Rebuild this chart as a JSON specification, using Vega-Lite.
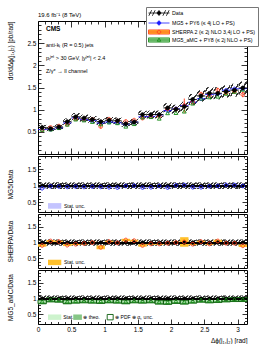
{
"$schema":"https://vega.github.io/schema/vega-lite/v6.json",
"autosize":{"type":"pad"},
"padding":{"left":6,"top":6,"right":5,"bottom":5},
"background":"white",
"config":{"font":"Liberation Sans","view":{"stroke":"black","strokeWidth":1},
"axis":{"domain":false,"grid":false,"labelFont":"Liberation Sans","labelFontSize":6.5,"labelColor":"black","titleFont":"Liberation Sans","titleFontSize":6.5,"titleFontWeight":"normal","titleColor":"black","tickColor":"black","tickWidth":0.8,"labelOverlap":false,"labelFlush":false,"labelBound":false,"labelPadding":2},
"legend":{"labelFont":"Liberation Sans"}},
"data":{"values":[
{"x0":0,"x1":0.1257,"xc":0.0628,"d":0.60,"de":0.03,"hl":0.54,"hh":0.66,"m":0.552,"mr":0.92,"me":0.02,"s":0.546,"sr":0.91,"se":0.04,"sem":0.024,"a":0.540,"ar":0.90,"ae":0.015,"at":0.08,"pl":0.84,"ph":0.96},
{"x0":0.1257,"x1":0.2513,"xc":0.1885,"d":0.57,"de":0.03,"hl":0.513,"hh":0.627,"m":0.559,"mr":0.98,"me":0.02,"s":0.599,"sr":1.05,"se":0.03,"sem":0.017,"a":0.547,"ar":0.96,"ae":0.015,"at":0.08,"pl":0.90,"ph":1.02},
{"x0":0.2513,"x1":0.3770,"xc":0.3142,"d":0.61,"de":0.03,"hl":0.549,"hh":0.671,"m":0.592,"mr":0.97,"me":0.02,"s":0.628,"sr":1.03,"se":0.03,"sem":0.018,"a":0.580,"ar":0.95,"ae":0.015,"at":0.08,"pl":0.89,"ph":1.01},
{"x0":0.3770,"x1":0.5027,"xc":0.4398,"d":0.73,"de":0.03,"hl":0.657,"hh":0.803,"m":0.701,"mr":0.96,"me":0.02,"s":0.672,"sr":0.92,"se":0.03,"sem":0.022,"a":0.657,"ar":0.90,"ae":0.015,"at":0.08,"pl":0.84,"ph":0.96},
{"x0":0.5027,"x1":0.6283,"xc":0.5655,"d":0.84,"de":0.03,"hl":0.756,"hh":0.924,"m":0.815,"mr":0.97,"me":0.02,"s":0.798,"sr":0.95,"se":0.03,"sem":0.025,"a":0.773,"ar":0.92,"ae":0.015,"at":0.08,"pl":0.86,"ph":0.98},
{"x0":0.6283,"x1":0.7540,"xc":0.6912,"d":0.81,"de":0.03,"hl":0.729,"hh":0.891,"m":0.778,"mr":0.96,"me":0.02,"s":0.786,"sr":0.97,"se":0.03,"sem":0.024,"a":0.753,"ar":0.93,"ae":0.015,"at":0.08,"pl":0.87,"ph":0.99},
{"x0":0.7540,"x1":0.8796,"xc":0.8168,"d":0.78,"de":0.03,"hl":0.702,"hh":0.858,"m":0.757,"mr":0.97,"me":0.02,"s":0.780,"sr":1.00,"se":0.03,"sem":0.023,"a":0.718,"ar":0.92,"ae":0.015,"at":0.08,"pl":0.86,"ph":0.98},
{"x0":0.8796,"x1":1.0053,"xc":0.9425,"d":0.73,"de":0.03,"hl":0.657,"hh":0.803,"m":0.701,"mr":0.96,"me":0.02,"s":0.621,"sr":0.85,"se":0.06,"sem":0.044,"a":0.664,"ar":0.91,"ae":0.015,"at":0.08,"pl":0.85,"ph":0.97},
{"x0":1.0053,"x1":1.1310,"xc":1.0681,"d":0.76,"de":0.03,"hl":0.684,"hh":0.836,"m":0.722,"mr":0.95,"me":0.02,"s":0.783,"sr":1.03,"se":0.03,"sem":0.023,"a":0.707,"ar":0.93,"ae":0.015,"at":0.08,"pl":0.87,"ph":0.99},
{"x0":1.1310,"x1":1.2566,"xc":1.1938,"d":0.75,"de":0.03,"hl":0.675,"hh":0.825,"m":0.705,"mr":0.94,"me":0.02,"s":0.743,"sr":0.99,"se":0.03,"sem":0.023,"a":0.690,"ar":0.92,"ae":0.015,"at":0.08,"pl":0.86,"ph":0.98},
{"x0":1.2566,"x1":1.3823,"xc":1.3195,"d":0.68,"de":0.03,"hl":0.612,"hh":0.748,"m":0.673,"mr":0.99,"me":0.02,"s":0.734,"sr":1.08,"se":0.04,"sem":0.027,"a":0.612,"ar":0.90,"ae":0.015,"at":0.08,"pl":0.84,"ph":0.96},
{"x0":1.3823,"x1":1.5080,"xc":1.4451,"d":0.72,"de":0.03,"hl":0.648,"hh":0.792,"m":0.720,"mr":1.00,"me":0.02,"s":0.763,"sr":1.06,"se":0.03,"sem":0.022,"a":0.670,"ar":0.93,"ae":0.015,"at":0.08,"pl":0.87,"ph":0.99},
{"x0":1.5080,"x1":1.6336,"xc":1.5708,"d":0.89,"de":0.03,"hl":0.801,"hh":0.979,"m":0.837,"mr":0.94,"me":0.02,"s":0.810,"sr":0.91,"se":0.04,"sem":0.036,"a":0.819,"ar":0.92,"ae":0.015,"at":0.08,"pl":0.86,"ph":0.98},
{"x0":1.6336,"x1":1.7593,"xc":1.6965,"d":0.89,"de":0.03,"hl":0.801,"hh":0.979,"m":0.846,"mr":0.95,"me":0.02,"s":0.854,"sr":0.96,"se":0.03,"sem":0.027,"a":0.828,"ar":0.93,"ae":0.015,"at":0.08,"pl":0.87,"ph":0.99},
{"x0":1.7593,"x1":1.8850,"xc":1.8221,"d":0.89,"de":0.03,"hl":0.801,"hh":0.979,"m":0.881,"mr":0.99,"me":0.02,"s":0.854,"sr":0.96,"se":0.03,"sem":0.027,"a":0.792,"ar":0.89,"ae":0.015,"at":0.08,"pl":0.83,"ph":0.95},
{"x0":1.8850,"x1":2.0106,"xc":1.9478,"d":1.04,"de":0.03,"hl":0.936,"hh":1.144,"m":0.978,"mr":0.94,"me":0.02,"s":1.019,"sr":0.98,"se":0.03,"sem":0.031,"a":0.915,"ar":0.88,"ae":0.015,"at":0.08,"pl":0.82,"ph":0.94},
{"x0":2.0106,"x1":2.1363,"xc":2.0735,"d":1.01,"de":0.03,"hl":0.909,"hh":1.111,"m":1.020,"mr":1.01,"me":0.02,"s":1.010,"sr":1.00,"se":0.03,"sem":0.030,"a":0.919,"ar":0.91,"ae":0.015,"at":0.08,"pl":0.85,"ph":0.97},
{"x0":2.1363,"x1":2.2619,"xc":2.1991,"d":1.07,"de":0.03,"hl":0.963,"hh":1.177,"m":1.091,"mr":1.02,"me":0.02,"s":1.091,"sr":1.02,"se":0.15,"sem":0.16,"a":0.952,"ar":0.89,"ae":0.015,"at":0.08,"pl":0.83,"ph":0.95},
{"x0":2.2619,"x1":2.3876,"xc":2.3248,"d":1.23,"de":0.03,"hl":1.107,"hh":1.353,"m":1.169,"mr":0.95,"me":0.02,"s":1.169,"sr":0.95,"se":0.03,"sem":0.037,"a":1.132,"ar":0.92,"ae":0.015,"at":0.08,"pl":0.86,"ph":0.98},
{"x0":2.3876,"x1":2.5133,"xc":2.4504,"d":1.31,"de":0.03,"hl":1.179,"hh":1.441,"m":1.245,"mr":0.95,"me":0.02,"s":1.349,"sr":1.03,"se":0.03,"sem":0.039,"a":1.245,"ar":0.95,"ae":0.015,"at":0.08,"pl":0.89,"ph":1.01},
{"x0":2.5133,"x1":2.6389,"xc":2.5761,"d":1.37,"de":0.03,"hl":1.233,"hh":1.507,"m":1.343,"mr":0.98,"me":0.02,"s":1.315,"sr":0.96,"se":0.03,"sem":0.041,"a":1.274,"ar":0.93,"ae":0.015,"at":0.08,"pl":0.87,"ph":0.99},
{"x0":2.6389,"x1":2.7646,"xc":2.7018,"d":1.37,"de":0.03,"hl":1.233,"hh":1.507,"m":1.356,"mr":0.99,"me":0.02,"s":1.439,"sr":1.05,"se":0.04,"sem":0.055,"a":1.288,"ar":0.94,"ae":0.015,"at":0.08,"pl":0.88,"ph":1.00},
{"x0":2.7646,"x1":2.8903,"xc":2.8274,"d":1.41,"de":0.03,"hl":1.269,"hh":1.551,"m":1.438,"mr":1.02,"me":0.02,"s":1.382,"sr":0.98,"se":0.03,"sem":0.042,"a":1.354,"ar":0.96,"ae":0.015,"at":0.08,"pl":0.90,"ph":1.02},
{"x0":2.8903,"x1":3.0159,"xc":2.9531,"d":1.44,"de":0.03,"hl":1.296,"hh":1.584,"m":1.469,"mr":1.02,"me":0.02,"s":1.411,"sr":0.98,"se":0.03,"sem":0.043,"a":1.397,"ar":0.97,"ae":0.015,"at":0.08,"pl":0.91,"ph":1.03},
{"x0":3.0159,"x1":3.1416,"xc":3.0788,"d":1.49,"de":0.03,"hl":1.341,"hh":1.639,"m":1.475,"mr":0.99,"me":0.02,"s":1.341,"sr":0.90,"se":0.04,"sem":0.060,"a":1.445,"ar":0.97,"ae":0.015,"at":0.08,"pl":0.91,"ph":1.03}
]},
"spacing":0,
"vconcat":[
{
"width":209,"height":133,
"title":{"text":"19.6 fb⁻¹ (8 TeV)","anchor":"start","frame":"group","fontSize":6,"fontWeight":"normal","font":"Liberation Sans","offset":3},
"resolve":{"axis":{"x":"independent","y":"independent"}},
"layer":[
{"mark":{"type":"rect","fill":{"gradient":"linear","x1":0,"y1":0,"x2":1,"y2":1,"stops":[{"offset":0,"color":"rgba(0,0,0,0)"},{"offset":0.12,"color":"rgba(0,0,0,0)"},{"offset":0.12,"color":"#333"},{"offset":0.22,"color":"#333"},{"offset":0.22,"color":"rgba(0,0,0,0)"},{"offset":0.45,"color":"rgba(0,0,0,0)"},{"offset":0.45,"color":"#333"},{"offset":0.55,"color":"#333"},{"offset":0.55,"color":"rgba(0,0,0,0)"},{"offset":0.78,"color":"rgba(0,0,0,0)"},{"offset":0.78,"color":"#333"},{"offset":0.88,"color":"#333"},{"offset":0.88,"color":"rgba(0,0,0,0)"},{"offset":1,"color":"rgba(0,0,0,0)"}]}},
 "encoding":{"x":{"field":"x0","type":"quantitative","scale":{"domain":[0,3.14159],"nice":false,"zero":false},"axis":{"orient":"top","values":[0,0.1,0.2,0.3,0.4,0.5,0.6,0.7,0.8,0.9,1,1.1,1.2,1.3,1.4,1.5,1.6,1.7,1.8,1.9,2,2.1,2.2,2.3,2.4,2.5,2.6,2.7,2.8,2.9,3,3.1],"labels":false,"title":null,"tickSize":{"condition":{"test":"abs(datum.value*2-round(datum.value*2))<0.001","value":-6},"value":-3}}},
  "x2":{"field":"x1"},
  "y":{"field":"hl","type":"quantitative","scale":{"domain":[0,3],"nice":false,"zero":false},"axis":{"orient":"right","values":[0.1,0.2,0.3,0.4,0.5,0.6,0.7,0.8,0.9,1,1.1,1.2,1.3,1.4,1.5,1.6,1.7,1.8,1.9,2,2.1,2.2,2.3,2.4,2.5,2.6,2.7,2.8,2.9],"labels":false,"title":null,"tickSize":{"condition":{"test":"abs(datum.value*2-round(datum.value*2))<0.001","value":-6},"value":-3}}},
  "y2":{"field":"hh"}}},
{"mark":{"type":"point","shape":"M-1,0H1M0.42,0A0.42,0.42 0 1,1 -0.42,0A0.42,0.42 0 1,1 0.42,0Z","size":70,"filled":false,"color":"#1a1aff","strokeWidth":0.9,"opacity":1},
 "encoding":{"x":{"field":"xc","type":"quantitative","axis":null},"y":{"field":"m","type":"quantitative","axis":null}}},
{"mark":{"type":"errorbar","color":"#ff3a1a","thickness":0.9},
 "encoding":{"x":{"field":"xc","type":"quantitative","axis":null},"y":{"field":"s","type":"quantitative","axis":null},"yError":{"field":"sem"}}},
{"mark":{"type":"point","shape":"M0.45,0A0.45,0.45 0 1,1 -0.45,0A0.45,0.45 0 1,1 0.45,0Z","size":70,"filled":false,"color":"#ff3a1a","strokeWidth":0.9,"opacity":1},
 "encoding":{"x":{"field":"xc","type":"quantitative","axis":null},"y":{"field":"s","type":"quantitative","axis":null}}},
{"mark":{"type":"point","shape":"M0,-0.5L0.45,0.3H-0.45Z","size":70,"filled":false,"color":"#128a12","strokeWidth":0.9,"opacity":1},
 "encoding":{"x":{"field":"xc","type":"quantitative","axis":null},"y":{"field":"a","type":"quantitative","axis":null}}},
{"mark":{"type":"errorbar","color":"black","thickness":0.9},
 "encoding":{"x":{"field":"xc","type":"quantitative","axis":null},"y":{"field":"d","type":"quantitative","axis":null},"yError":{"field":"de"}}},
{"mark":{"type":"point","shape":"M-1,0H1M0.45,0A0.45,0.45 0 1,1 -0.45,0A0.45,0.45 0 1,1 0.45,0Z","size":70,"filled":true,"color":"black","stroke":"black","strokeWidth":0.9,"opacity":1},
 "encoding":{"x":{"field":"xc","type":"quantitative","axis":{"orient":"bottom","values":[0,0.1,0.2,0.3,0.4,0.5,0.6,0.7,0.8,0.9,1,1.1,1.2,1.3,1.4,1.5,1.6,1.7,1.8,1.9,2,2.1,2.2,2.3,2.4,2.5,2.6,2.7,2.8,2.9,3,3.1],"labels":false,"title":null,"tickSize":{"condition":{"test":"abs(datum.value*2-round(datum.value*2))<0.001","value":-6},"value":-3}}},
  "y":{"field":"d","type":"quantitative","axis":{"orient":"left","values":[0.1,0.2,0.3,0.4,0.5,0.6,0.7,0.8,0.9,1,1.1,1.2,1.3,1.4,1.5,1.6,1.7,1.8,1.9,2,2.1,2.2,2.3,2.4,2.5,2.6,2.7,2.8,2.9],"labelExpr":"abs(datum.value*2-round(datum.value*2))<0.001 ? format(datum.value,'~g') : ''","labelPadding":8,"title":"dσ/dΔϕ(j₁,j₂)  [pb/rad]","titleAnchor":"end","titleX":-25,"tickSize":{"condition":{"test":"abs(datum.value*2-round(datum.value*2))<0.001","value":-6},"value":-3}}}}},
{"data":{"values":[{}]},"mark":{"type":"text","text":"CMS","font":"Liberation Sans","fontWeight":"bold","fontSize":6.5,"align":"left","baseline":"middle"},
 "encoding":{"x":{"datum":0.12,"type":"quantitative","axis":null},"y":{"datum":2.83,"type":"quantitative","axis":null}}},
{"data":{"values":[{}]},"mark":{"type":"text","text":"anti-kₜ (R = 0.5) jets","font":"Liberation Sans","fontSize":5.5,"align":"left","baseline":"middle"},
 "encoding":{"x":{"datum":0.12,"type":"quantitative","axis":null},"y":{"datum":2.46,"type":"quantitative","axis":null}}},
{"data":{"values":[{}]},"mark":{"type":"text","text":"pₜʲᵉᵗ > 30 GeV, |yʲᵉᵗ| < 2.4","font":"Liberation Sans","fontSize":5.5,"align":"left","baseline":"middle"},
 "encoding":{"x":{"datum":0.12,"type":"quantitative","axis":null},"y":{"datum":2.16,"type":"quantitative","axis":null}}},
{"data":{"values":[{}]},"mark":{"type":"text","text":"Z/γ* → ll channel","font":"Liberation Sans","fontSize":5.5,"align":"left","baseline":"middle"},
 "encoding":{"x":{"datum":0.12,"type":"quantitative","axis":null},"y":{"datum":1.88,"type":"quantitative","axis":null}}},
{"transform":[{"filter":"false"}],
 "mark":{"type":"point","filled":true,"opacity":1},
 "encoding":{
  "x":{"field":"xc","type":"quantitative","axis":null},"y":{"field":"d","type":"quantitative","axis":null},
  "fill":{"field":"series","type":"nominal","scale":{"domain":["Data","MG5 + PY6 (≤ 4j LO + PS)","SHERPA 2 (≤ 2j NLO 3,4j LO + PS)","MG5_aMC + PY8 (≤ 2j NLO + PS)"],"range":["black","#1a1aff","#ffc02a","#9ad49a"]},
   "legend":{"orient":"none","legendX":108,"legendY":-14,"title":null,"labelFontSize":5.3,"symbolSize":49,"symbolStrokeWidth":0.8,"symbolOpacity":1,"labelOffset":16,"padding":2,"rowPadding":0,"strokeColor":"#777","fillColor":"white","labelLimit":200}},
  "stroke":{"field":"series","type":"nominal","scale":{"domain":["Data","MG5 + PY6 (≤ 4j LO + PS)","SHERPA 2 (≤ 2j NLO 3,4j LO + PS)","MG5_aMC + PY8 (≤ 2j NLO + PS)"],"range":["black","#1a1aff","#ff3a1a","#128a12"]},
   "legend":{"orient":"none","legendX":108,"legendY":-14,"title":null,"labelFontSize":5.3,"symbolSize":49,"symbolStrokeWidth":0.8,"symbolOpacity":1,"labelOffset":16,"padding":2,"rowPadding":0,"strokeColor":"#777","fillColor":"white","labelLimit":200}},
  "shape":{"field":"series","type":"nominal","scale":{"domain":["Data","MG5 + PY6 (≤ 4j LO + PS)","SHERPA 2 (≤ 2j NLO 3,4j LO + PS)","MG5_aMC + PY8 (≤ 2j NLO + PS)"],"range":["M-1,0H5M2,-0.8V0.8M2.5,0A0.5,0.5 0 1,1 1.5,0A0.5,0.5 0 1,1 2.5,0ZM-0.9,0.8L-0.1,-0.8M0.1,0.8L0.9,-0.8M3.1,0.8L3.9,-0.8M4.1,0.8L4.9,-0.8","M-1,0H5M2,-0.7V0.7M2.5,0A0.5,0.5 0 1,1 1.5,0A0.5,0.5 0 1,1 2.5,0Z","M-1,-0.6H5V0.6H-1ZM-1,0H5M2.5,0A0.5,0.5 0 1,1 1.5,0A0.5,0.5 0 1,1 2.5,0Z","M-1,-0.6H5V0.6H-1ZM-1,0H5M2,-0.55L2.5,0.35H1.5Z"]},
   "legend":{"orient":"none","legendX":108,"legendY":-14,"title":null,"labelFontSize":5.3,"symbolSize":49,"symbolStrokeWidth":0.8,"symbolOpacity":1,"labelOffset":16,"padding":2,"rowPadding":0,"strokeColor":"#777","fillColor":"white","labelLimit":200}}
 }}
]
},
{
"width":209,"height":56,
"resolve":{"axis":{"x":"independent","y":"independent"}},
"layer":[
{"mark":{"type":"rect","fill":{"gradient":"linear","x1":0,"y1":0,"x2":1,"y2":1,"stops":[{"offset":0,"color":"rgba(0,0,0,0)"},{"offset":0.1,"color":"rgba(0,0,0,0)"},{"offset":0.1,"color":"#333"},{"offset":0.24,"color":"#333"},{"offset":0.24,"color":"rgba(0,0,0,0)"},{"offset":0.43,"color":"rgba(0,0,0,0)"},{"offset":0.43,"color":"#333"},{"offset":0.57,"color":"#333"},{"offset":0.57,"color":"rgba(0,0,0,0)"},{"offset":0.76,"color":"rgba(0,0,0,0)"},{"offset":0.76,"color":"#333"},{"offset":0.9,"color":"#333"},{"offset":0.9,"color":"rgba(0,0,0,0)"},{"offset":1,"color":"rgba(0,0,0,0)"}]}},
 "encoding":{"x":{"field":"x0","type":"quantitative","scale":{"domain":[0,3.14159],"nice":false,"zero":false},"axis":{"orient":"top","values":[0,0.1,0.2,0.3,0.4,0.5,0.6,0.7,0.8,0.9,1,1.1,1.2,1.3,1.4,1.5,1.6,1.7,1.8,1.9,2,2.1,2.2,2.3,2.4,2.5,2.6,2.7,2.8,2.9,3,3.1],"labels":false,"title":null,"tickSize":{"condition":{"test":"abs(datum.value*2-round(datum.value*2))<0.001","value":-4},"value":-2}}},
  "x2":{"field":"x1"},
  "y":{"datum":0.9,"type":"quantitative","scale":{"domain":[0.2,1.9],"nice":false,"zero":false},"axis":{"orient":"right","values":[0.3,0.4,0.5,0.6,0.7,0.8,0.9,1,1.1,1.2,1.3,1.4,1.5,1.6,1.7,1.8],"labels":false,"title":null,"tickSize":{"condition":{"test":"abs(datum.value*2-round(datum.value*2))<0.001","value":-5},"value":-2.5}}},
  "y2":{"datum":1.1}}},
{"mark":{"type":"errorbar","color":"#c4c4ff","thickness":8.36},
 "encoding":{"x":{"field":"xc","type":"quantitative","axis":null},"y":{"field":"mr","type":"quantitative","axis":null},"yError":{"field":"me"}}},
{"mark":{"type":"rule","color":"black","strokeWidth":1.3},"encoding":{"y":{"datum":1,"type":"quantitative","axis":null}}},
{"mark":{"type":"point","shape":"M-1,0H1M0.42,0A0.42,0.42 0 1,1 -0.42,0A0.42,0.42 0 1,1 0.42,0Z","size":70,"filled":true,"color":"black","stroke":"black","strokeWidth":0.9,"opacity":1},
 "encoding":{"x":{"field":"xc","type":"quantitative","axis":{"orient":"bottom","values":[0,0.1,0.2,0.3,0.4,0.5,0.6,0.7,0.8,0.9,1,1.1,1.2,1.3,1.4,1.5,1.6,1.7,1.8,1.9,2,2.1,2.2,2.3,2.4,2.5,2.6,2.7,2.8,2.9,3,3.1],"labels":false,"title":null,"tickSize":{"condition":{"test":"abs(datum.value*2-round(datum.value*2))<0.001","value":-4},"value":-2}}},
  "y":{"datum":1,"type":"quantitative","axis":{"orient":"left","values":[0.3,0.4,0.5,0.6,0.7,0.8,0.9,1,1.1,1.2,1.3,1.4,1.5,1.6,1.7,1.8],"labelExpr":"abs(datum.value*2-round(datum.value*2))<0.001 ? format(datum.value,'~g') : ''","labelPadding":7,"title":"MG5/Data","titleAnchor":"middle","titleX":-25,"tickSize":{"condition":{"test":"abs(datum.value*2-round(datum.value*2))<0.001","value":-5},"value":-2.5}}}}},
{"mark":{"type":"point","shape":"M0.42,0A0.42,0.42 0 1,1 -0.42,0A0.42,0.42 0 1,1 0.42,0Z","size":70,"filled":false,"color":"#1a1aff","strokeWidth":0.9,"opacity":1},
 "encoding":{"x":{"field":"xc","type":"quantitative","axis":null},"y":{"field":"mr","type":"quantitative","axis":null}}},
{"data":{"values":[{}]},"mark":{"type":"rect","color":"#c4c4ff"},
 "encoding":{"x":{"datum":0.15,"type":"quantitative","axis":null},"x2":{"datum":0.35},"y":{"datum":0.3,"type":"quantitative","axis":null},"y2":{"datum":0.47}}},
{"data":{"values":[{}]},"mark":{"type":"text","text":"Stat. unc.","font":"Liberation Sans","fontSize":5,"align":"left","baseline":"middle"},
 "encoding":{"x":{"datum":0.39,"type":"quantitative","axis":null},"y":{"datum":0.385,"type":"quantitative","axis":null}}}
]
},
{
"width":209,"height":54,
"resolve":{"axis":{"x":"independent","y":"independent"}},
"layer":[
{"mark":{"type":"rect","fill":{"gradient":"linear","x1":0,"y1":0,"x2":1,"y2":1,"stops":[{"offset":0,"color":"rgba(0,0,0,0)"},{"offset":0.1,"color":"rgba(0,0,0,0)"},{"offset":0.1,"color":"#333"},{"offset":0.24,"color":"#333"},{"offset":0.24,"color":"rgba(0,0,0,0)"},{"offset":0.43,"color":"rgba(0,0,0,0)"},{"offset":0.43,"color":"#333"},{"offset":0.57,"color":"#333"},{"offset":0.57,"color":"rgba(0,0,0,0)"},{"offset":0.76,"color":"rgba(0,0,0,0)"},{"offset":0.76,"color":"#333"},{"offset":0.9,"color":"#333"},{"offset":0.9,"color":"rgba(0,0,0,0)"},{"offset":1,"color":"rgba(0,0,0,0)"}]}},
 "encoding":{"x":{"field":"x0","type":"quantitative","scale":{"domain":[0,3.14159],"nice":false,"zero":false},"axis":{"orient":"top","values":[0,0.1,0.2,0.3,0.4,0.5,0.6,0.7,0.8,0.9,1,1.1,1.2,1.3,1.4,1.5,1.6,1.7,1.8,1.9,2,2.1,2.2,2.3,2.4,2.5,2.6,2.7,2.8,2.9,3,3.1],"labels":false,"title":null,"tickSize":{"condition":{"test":"abs(datum.value*2-round(datum.value*2))<0.001","value":-4},"value":-2}}},
  "x2":{"field":"x1"},
  "y":{"datum":0.9,"type":"quantitative","scale":{"domain":[0.2,1.9],"nice":false,"zero":false},"axis":{"orient":"right","values":[0.3,0.4,0.5,0.6,0.7,0.8,0.9,1,1.1,1.2,1.3,1.4,1.5,1.6,1.7,1.8],"labels":false,"title":null,"tickSize":{"condition":{"test":"abs(datum.value*2-round(datum.value*2))<0.001","value":-5},"value":-2.5}}},
  "y2":{"datum":1.1}}},
{"mark":{"type":"errorbar","color":"#ffc02a","thickness":8.36},
 "encoding":{"x":{"field":"xc","type":"quantitative","axis":null},"y":{"field":"sr","type":"quantitative","axis":null},"yError":{"field":"se"}}},
{"mark":{"type":"rule","color":"black","strokeWidth":1.3},"encoding":{"y":{"datum":1,"type":"quantitative","axis":null}}},
{"mark":{"type":"point","shape":"M-1,0H1M0.42,0A0.42,0.42 0 1,1 -0.42,0A0.42,0.42 0 1,1 0.42,0Z","size":70,"filled":true,"color":"black","stroke":"black","strokeWidth":0.9,"opacity":1},
 "encoding":{"x":{"field":"xc","type":"quantitative","axis":{"orient":"bottom","values":[0,0.1,0.2,0.3,0.4,0.5,0.6,0.7,0.8,0.9,1,1.1,1.2,1.3,1.4,1.5,1.6,1.7,1.8,1.9,2,2.1,2.2,2.3,2.4,2.5,2.6,2.7,2.8,2.9,3,3.1],"labels":false,"title":null,"tickSize":{"condition":{"test":"abs(datum.value*2-round(datum.value*2))<0.001","value":-4},"value":-2}}},
  "y":{"datum":1,"type":"quantitative","axis":{"orient":"left","values":[0.3,0.4,0.5,0.6,0.7,0.8,0.9,1,1.1,1.2,1.3,1.4,1.5,1.6,1.7,1.8],"labelExpr":"abs(datum.value*2-round(datum.value*2))<0.001 ? format(datum.value,'~g') : ''","labelPadding":7,"title":"SHERPA/Data","titleAnchor":"middle","titleX":-25,"tickSize":{"condition":{"test":"abs(datum.value*2-round(datum.value*2))<0.001","value":-5},"value":-2.5}}}}},
{"mark":{"type":"point","shape":"M0.45,0A0.45,0.45 0 1,1 -0.45,0A0.45,0.45 0 1,1 0.45,0Z","size":70,"filled":false,"color":"#ff3a1a","strokeWidth":0.9,"opacity":1},
 "encoding":{"x":{"field":"xc","type":"quantitative","axis":null},"y":{"field":"sr","type":"quantitative","axis":null}}},
{"data":{"values":[{}]},"mark":{"type":"rect","color":"#ffc02a"},
 "encoding":{"x":{"datum":0.15,"type":"quantitative","axis":null},"x2":{"datum":0.35},"y":{"datum":0.29,"type":"quantitative","axis":null},"y2":{"datum":0.46}}},
{"data":{"values":[{}]},"mark":{"type":"text","text":"Stat. unc.","font":"Liberation Sans","fontSize":5,"align":"left","baseline":"middle"},
 "encoding":{"x":{"datum":0.39,"type":"quantitative","axis":null},"y":{"datum":0.375,"type":"quantitative","axis":null}}}
]
},
{
"width":209,"height":54,
"resolve":{"axis":{"x":"independent","y":"independent"}},
"layer":[
{"mark":{"type":"rect","fill":{"gradient":"linear","x1":0,"y1":0,"x2":1,"y2":1,"stops":[{"offset":0,"color":"rgba(0,0,0,0)"},{"offset":0.1,"color":"rgba(0,0,0,0)"},{"offset":0.1,"color":"#333"},{"offset":0.24,"color":"#333"},{"offset":0.24,"color":"rgba(0,0,0,0)"},{"offset":0.43,"color":"rgba(0,0,0,0)"},{"offset":0.43,"color":"#333"},{"offset":0.57,"color":"#333"},{"offset":0.57,"color":"rgba(0,0,0,0)"},{"offset":0.76,"color":"rgba(0,0,0,0)"},{"offset":0.76,"color":"#333"},{"offset":0.9,"color":"#333"},{"offset":0.9,"color":"rgba(0,0,0,0)"},{"offset":1,"color":"rgba(0,0,0,0)"}]}},
 "encoding":{"x":{"field":"x0","type":"quantitative","scale":{"domain":[0,3.14159],"nice":false,"zero":false},"axis":{"orient":"top","values":[0,0.1,0.2,0.3,0.4,0.5,0.6,0.7,0.8,0.9,1,1.1,1.2,1.3,1.4,1.5,1.6,1.7,1.8,1.9,2,2.1,2.2,2.3,2.4,2.5,2.6,2.7,2.8,2.9,3,3.1],"labels":false,"title":null,"tickSize":{"condition":{"test":"abs(datum.value*2-round(datum.value*2))<0.001","value":-4},"value":-2}}},
  "x2":{"field":"x1"},
  "y":{"datum":0.9,"type":"quantitative","scale":{"domain":[0.2,1.9],"nice":false,"zero":false},"axis":{"orient":"right","values":[0.3,0.4,0.5,0.6,0.7,0.8,0.9,1,1.1,1.2,1.3,1.4,1.5,1.6,1.7,1.8],"labels":false,"title":null,"tickSize":{"condition":{"test":"abs(datum.value*2-round(datum.value*2))<0.001","value":-5},"value":-2.5}}},
  "y2":{"datum":1.1}}},
{"mark":{"type":"errorbar","color":"#86c686","thickness":8.36},
 "encoding":{"x":{"field":"xc","type":"quantitative","axis":null},"y":{"field":"ar","type":"quantitative","axis":null},"yError":{"field":"at"}}},
{"mark":{"type":"errorbar","color":"#cdf3cd","thickness":8.36},
 "encoding":{"x":{"field":"xc","type":"quantitative","axis":null},"y":{"field":"ar","type":"quantitative","axis":null},"yError":{"field":"ae"}}},
{"mark":{"type":"rect","fill":null,"stroke":"#0a5c0a","strokeWidth":0.9},
 "encoding":{"x":{"field":"x0","type":"quantitative","axis":null},"x2":{"field":"x1"},"y":{"field":"pl","type":"quantitative","axis":null},"y2":{"field":"ph"}}},
{"mark":{"type":"rule","color":"black","strokeWidth":1.3},"encoding":{"y":{"datum":1,"type":"quantitative","axis":null}}},
{"mark":{"type":"point","shape":"M-1,0H1M0.42,0A0.42,0.42 0 1,1 -0.42,0A0.42,0.42 0 1,1 0.42,0Z","size":70,"filled":true,"color":"black","stroke":"black","strokeWidth":0.9,"opacity":1},
 "encoding":{"x":{"field":"xc","type":"quantitative","axis":{"orient":"bottom","values":[0,0.1,0.2,0.3,0.4,0.5,0.6,0.7,0.8,0.9,1,1.1,1.2,1.3,1.4,1.5,1.6,1.7,1.8,1.9,2,2.1,2.2,2.3,2.4,2.5,2.6,2.7,2.8,2.9,3,3.1],"labelExpr":"abs(datum.value*2-round(datum.value*2))<0.001 ? format(datum.value,'~g') : ''","labelPadding":7,"title":"Δϕ(j₁,j₂) [rad]","titleAnchor":"end","titlePadding":2,"tickSize":{"condition":{"test":"abs(datum.value*2-round(datum.value*2))<0.001","value":-5},"value":-2.5}}},
  "y":{"datum":1,"type":"quantitative","axis":{"orient":"left","values":[0.3,0.4,0.5,0.6,0.7,0.8,0.9,1,1.1,1.2,1.3,1.4,1.5,1.6,1.7,1.8],"labelExpr":"abs(datum.value*2-round(datum.value*2))<0.001 ? format(datum.value,'~g') : ''","labelPadding":7,"title":"MG5_aMC/Data","titleAnchor":"middle","titleX":-25,"tickSize":{"condition":{"test":"abs(datum.value*2-round(datum.value*2))<0.001","value":-5},"value":-2.5}}}}},
{"mark":{"type":"point","shape":"M0,-0.5L0.45,0.3H-0.45Z","size":70,"filled":false,"color":"#128a12","strokeWidth":0.9,"opacity":1},
 "encoding":{"x":{"field":"xc","type":"quantitative","axis":null},"y":{"field":"ar","type":"quantitative","axis":null}}},
{"data":{"values":[{}]},"mark":{"type":"rect","color":"#cdf3cd"},
 "encoding":{"x":{"datum":0.15,"type":"quantitative","axis":null},"x2":{"datum":0.35},"y":{"datum":0.33,"type":"quantitative","axis":null},"y2":{"datum":0.5}}},
{"data":{"values":[{}]},"mark":{"type":"text","text":"Stat.","font":"Liberation Sans","fontSize":5,"align":"left","baseline":"middle"},
 "encoding":{"x":{"datum":0.38,"type":"quantitative","axis":null},"y":{"datum":0.415,"type":"quantitative","axis":null}}},
{"data":{"values":[{}]},"mark":{"type":"rect","color":"#86c686"},
 "encoding":{"x":{"datum":0.53,"type":"quantitative","axis":null},"x2":{"datum":0.66},"y":{"datum":0.33,"type":"quantitative","axis":null},"y2":{"datum":0.5}}},
{"data":{"values":[{}]},"mark":{"type":"text","text":"⊕ theo.","font":"Liberation Sans","fontSize":5,"align":"left","baseline":"middle"},
 "encoding":{"x":{"datum":0.68,"type":"quantitative","axis":null},"y":{"datum":0.415,"type":"quantitative","axis":null}}},
{"data":{"values":[{}]},"mark":{"type":"rect","fill":null,"stroke":"#0a5c0a","strokeWidth":0.9},
 "encoding":{"x":{"datum":1.04,"type":"quantitative","axis":null},"x2":{"datum":1.13},"y":{"datum":0.33,"type":"quantitative","axis":null},"y2":{"datum":0.5}}},
{"data":{"values":[{}]},"mark":{"type":"text","text":"⊕ PDF ⊕ αₛ unc.","font":"Liberation Sans","fontSize":5,"align":"left","baseline":"middle"},
 "encoding":{"x":{"datum":1.16,"type":"quantitative","axis":null},"y":{"datum":0.415,"type":"quantitative","axis":null}}}
]
}
]
}
